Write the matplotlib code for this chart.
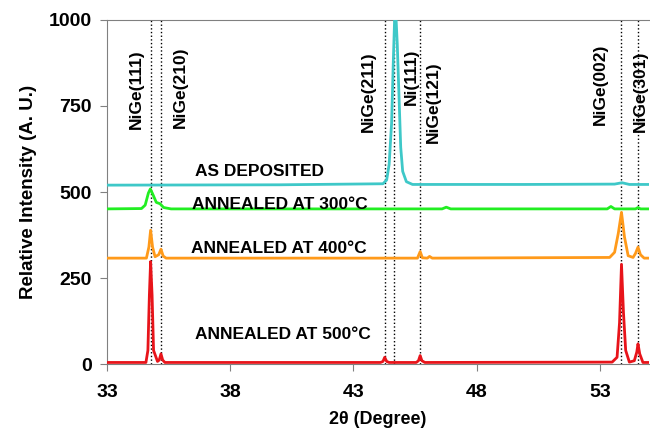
import matplotlib.pyplot as plt

plt.rcParams['font.family'] = ['Liberation Sans', 'DejaVu Sans']
plt.rcParams['font.weight'] = 'bold'

# 2-theta positions / intensities
asdep_x = [33, 40, 44.2, 44.35, 44.45, 44.55, 44.62, 44.68, 44.72, 44.78, 44.85, 44.92, 45.0, 45.15, 45.4, 50, 53.6, 53.9, 54.2, 55]
asdep_y = [520, 521, 524, 535, 580, 700, 880, 1020, 1020, 930, 780, 630, 560, 530, 522, 522, 523, 527, 522, 522]

a300_x = [33, 34.4, 34.55, 34.68, 34.76, 34.85, 35.0, 35.15, 35.3, 35.6, 46.6, 46.77, 46.95, 53.3, 53.45, 53.6, 54.45, 54.55, 54.65, 55]
a300_y = [451, 452, 462, 497, 509, 495, 470, 466, 455, 451, 451, 456, 451, 451, 458, 451, 451, 455, 451, 451]

a400_x = [33, 34.6, 34.7, 34.77, 34.85, 34.95, 35.1, 35.19, 35.28, 35.4, 45.6, 45.71, 45.8, 46.0, 46.09, 46.2, 53.4, 53.6, 53.75, 53.88, 54.0, 54.15, 54.35, 54.45, 54.55, 54.65, 54.8, 55]
a400_y = [308, 308, 340, 389, 340, 312, 318, 334, 314, 308, 308, 327, 309, 308, 313, 308, 310, 325, 380, 441, 370, 315, 310, 322, 340, 318, 308, 308]

a500_x = [33, 34.58, 34.66, 34.72, 34.77, 34.83, 34.89, 35.05, 35.12, 35.19, 35.26, 35.35, 44.1, 44.2, 44.27, 44.35, 44.45, 45.55, 45.64, 45.71, 45.78, 45.9, 53.5, 53.7, 53.8, 53.88, 53.96, 54.05, 54.2, 54.4, 54.5, 54.55, 54.62, 54.75, 55]
a500_y = [5, 5, 40, 200, 298, 200, 40, 8, 12, 30, 12, 5, 5, 8, 20, 8, 5, 5, 10, 25, 10, 5, 6, 20, 120, 290, 150, 40, 6, 10, 35, 59, 30, 5, 5]

peak_pos = [34.77, 35.19, 44.27, 44.66, 45.71, 53.88, 54.55]
peak_names = ['NiGe(111)', 'NiGe(210)', 'NiGe(211)', 'Ni(111)', 'NiGe(121)', 'NiGe(002)', 'NiGe(301)']
name_x = [34.21, 35.97, 43.61, 45.35, 46.25, 53.04, 54.63]
name_y = [800, 805, 790, 836, 760, 813, 792]

curve_names = ['AS DEPOSITED', 'ANNEALED AT 300°C', 'ANNEALED AT 400°C', 'ANNEALED AT 500°C']
curve_lx = [36.58, 36.44, 36.4, 36.58]
curve_ly = [561, 465, 337, 85]

fig = plt.figure(figsize=(6.5, 4.32), dpi=100)
ax = fig.add_axes([0.1646, 0.157, 0.834, 0.797])

for p in peak_pos:
    ax.axvline(p, color='black', ls=':', lw=1.0, zorder=1)

ax.plot(asdep_x, asdep_y, color='#3EC8C8', lw=2.0, zorder=3)
ax.plot(a300_x, a300_y, color='#22EE22', lw=2.0, zorder=3)
ax.plot(a400_x, a400_y, color='#FF9A1A', lw=2.0, zorder=3)
ax.plot(a500_x, a500_y, color='#E8141A', lw=2.0, zorder=3)

for nx, ny, nm in zip(name_x, name_y, peak_names):
    ax.text(nx, ny, nm, rotation=90, ha='center', va='center', fontsize=12.5, fontweight='bold')

for lx, ly, nm in zip(curve_lx, curve_ly, curve_names):
    ax.text(lx, ly, nm, ha='left', va='center', fontsize=12.5, fontweight='bold')

ax.set_xlim(33, 55)
ax.set_ylim(0, 1000)
ax.set_xticks([33, 38, 43, 48, 53])
ax.set_yticks([0, 250, 500, 750, 1000])
ax.tick_params(direction='out', length=5, color='#808080', labelsize=14)
ax.tick_params(axis='x', pad=9)
ax.tick_params(axis='y', pad=6)
for s in ['left', 'top', 'bottom']:
    ax.spines[s].set_color('#808080')
ax.spines['right'].set_visible(False)

ax.set_xlabel('2θ (Degree)', fontsize=13, fontweight='bold', va='center')
ax.set_ylabel('Relative Intensity (A. U.)', fontsize=13.5, fontweight='bold', va='center')
ax.xaxis.set_label_coords(0.5, -0.16)
ax.yaxis.set_label_coords(-0.145, 0.5)

fig.savefig('out.png', dpi=100)
